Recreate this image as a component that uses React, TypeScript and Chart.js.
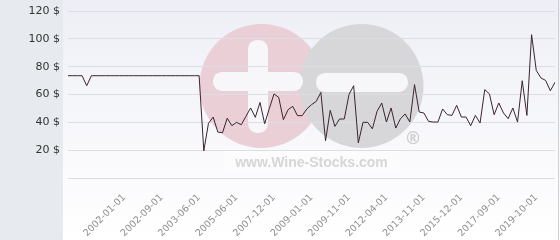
import React, { useEffect, useRef } from 'react';
import { Chart, registerables } from 'chart.js';

Chart.register(...registerables);

// Category labels (one per price point)
const dates: string[] = [
  '2001-01-01', '2001-02-01', '2001-03-01', '2001-04-01', '2001-05-01', '2001-06-01',
  '2001-07-01', '2001-08-01', '2001-09-01', '2001-10-01', '2001-11-01', '2001-12-01',
  '2002-01-01', '2002-02-01', '2002-03-01', '2002-04-01', '2002-05-01', '2002-06-01',
  '2002-07-01', '2002-08-01', '2002-09-01',
  '2002-10-01', '2002-11-01', '2002-12-01', '2003-01-01', '2003-02-01', '2003-03-01', '2003-05-01', '2003-06-01',
  '2003-09-01', '2003-12-01', '2004-03-01', '2004-06-01', '2004-09-01', '2004-12-01', '2005-03-01', '2005-06-01',
  '2005-10-01', '2006-01-01', '2006-05-01', '2006-09-01', '2006-12-01', '2007-03-01', '2007-08-01', '2007-12-01',
  '2008-02-01', '2008-03-01', '2008-05-01', '2008-06-01', '2008-08-01', '2008-09-01', '2008-11-01', '2009-01-01',
  '2009-02-01', '2009-03-01', '2009-05-01', '2009-06-01', '2009-07-01', '2009-08-01', '2009-09-01', '2009-11-01',
  '2010-02-01', '2010-06-01', '2010-10-01', '2011-01-01', '2011-05-01', '2011-08-01', '2011-12-01', '2012-04-01',
  '2012-06-01', '2012-09-01', '2012-11-01', '2013-01-01', '2013-04-01', '2013-06-01', '2013-09-01', '2013-11-01',
  '2014-02-01', '2014-05-01', '2014-08-01', '2014-11-01', '2015-02-01', '2015-06-01', '2015-09-01', '2015-12-01',
  '2016-03-01', '2016-06-01', '2016-08-01', '2016-11-01', '2017-01-01', '2017-04-01', '2017-06-01', '2017-09-01',
  '2017-12-01', '2018-03-01', '2018-06-01', '2018-09-01', '2018-12-01', '2019-03-01', '2019-06-01', '2019-10-01',
  '2020-01-01', '2020-04-01', '2020-07-01', '2020-10-01',
];

// Price series ($)
const prices: number[] = [
  73.5, 73.5, 73.5, 73.5, 66.3, 73.5, 73.5, 73.5, 73.5, 73.5,
  73.5, 73.5, 73.5, 73.5, 73.5, 73.5, 73.5, 73.5, 73.5, 73.5,
  73.5, 73.5, 73.5, 73.5, 73.5, 73.5, 73.5, 73.5, 73.5, 19.5,
  39.3, 43.8, 33, 32.5, 43, 37.6, 40, 38.3, 44.3, 50.3,
  43.6, 54.3, 39, 50, 60.4, 57.9, 41.9, 49.1, 51.5, 44.8,
  44.8, 49.6, 52.7, 55, 61.5, 26.8, 48.6, 37.1, 42.4, 42.4,
  59.9, 66.3, 25.2, 40, 40, 35.3, 47.9, 53.9, 40.2, 50.3,
  35.9, 42.6, 46, 40.2, 67.1, 47.4, 46.7, 40.7, 40.2, 40.2,
  49.6, 45.5, 45, 52.2, 43.8, 43.8, 37.6, 45, 39.5, 63.5,
  60.4, 45.5, 53.9, 46.7, 42.6, 50.3, 40.2, 69.9, 45, 103,
  77.3, 71.9, 70.1, 62.7, 68.7,
];

// Tick labels shown on the x axis
const shownTicks: string[] = [
  '2002-01-01', '2002-09-01', '2003-06-01', '2005-06-01', '2007-12-01', '2009-01-01',
  '2009-11-01', '2012-04-01', '2013-11-01', '2015-12-01', '2017-09-01', '2019-10-01',
];

// Y tick values
const yTicks: number[] = [0, 20, 40, 60, 80, 100, 120];

const backgroundPlugin = {
  id: 'wsBackground',
  beforeDraw(chart: any) {
    const { ctx, width, height, chartArea } = chart;
    const panelRight = chartArea.left - 5;
    ctx.save();
    const g = ctx.createLinearGradient(0, 0, 0, height);
    g.addColorStop(0, '#eeeff6');
    g.addColorStop(1, '#ffffff');
    ctx.fillStyle = g;
    ctx.fillRect(panelRight, 0, width - panelRight, height);
    ctx.fillStyle = '#e7ebef';
    ctx.fillRect(0, 0, panelRight, height);
    ctx.strokeStyle = '#cfd0d4';
    ctx.lineWidth = 1;
    ctx.beginPath();
    ctx.moveTo(width - 1.5, 0);
    ctx.lineTo(width - 1.5, height);
    ctx.stroke();

    // watermark, centred in chart area
    const cx = (chartArea.left + chartArea.right) / 2;
    const cy = (chartArea.top + chartArea.bottom) / 2;
    const rr = (x: number, y: number, w: number, h: number, r: number) => {
      ctx.beginPath();
      ctx.moveTo(x + r, y);
      ctx.lineTo(x + w - r, y);
      ctx.arc(x + w - r, y + r, r, -Math.PI / 2, 0);
      ctx.lineTo(x + w, y + h - r);
      ctx.arc(x + w - r, y + h - r, r, 0, Math.PI / 2);
      ctx.lineTo(x + r, y + h);
      ctx.arc(x + r, y + h - r, r, Math.PI / 2, Math.PI);
      ctx.lineTo(x, y + r);
      ctx.arc(x + r, y + r, r, Math.PI, Math.PI * 1.5);
      ctx.closePath();
      ctx.fill();
    };
    ctx.fillStyle = '#eacfd6';
    ctx.beginPath();
    ctx.arc(cx - 50, cy - 8.6, 62, 0, Math.PI * 2);
    ctx.fill();
    ctx.fillStyle = '#d7d7d9';
    ctx.beginPath();
    ctx.arc(cx + 50, cy - 8.6, 62, 0, Math.PI * 2);
    ctx.fill();
    ctx.fillStyle = '#f7f7fa';
    rr(cx - 98.5, cy - 22.6, 90, 19, 9);
    rr(cx - 63.5, cy - 54.6, 20, 93, 9);
    rr(cx + 4.5, cy - 21.6, 92, 19, 9);
    ctx.fillStyle = 'rgba(255,255,255,0.45)';
    ctx.fillRect(cx - 88, cy + 56, 176, 22);
    ctx.fillStyle = '#d6d6d6';
    ctx.font = 'bold 14px "Liberation Sans", Arial, sans-serif';
    ctx.textAlign = 'center';
    ctx.textBaseline = 'alphabetic';
    ctx.fillText('www.Wine-Stocks.com', cx, cy + 72.4);
    ctx.font = 'bold 17px "DejaVu Sans", sans-serif';
    ctx.textBaseline = 'middle';
    ctx.fillStyle = '#d0d0d0';
    ctx.fillText('®', cx + 101.5, cy + 45.4);
    ctx.restore();
  },
};

export default function App() {
  const canvasRef = useRef<HTMLCanvasElement | null>(null);

  useEffect(() => {
    document.body.style.margin = '0';
    const canvas = canvasRef.current;
    if (!canvas) return;
    const chart = new Chart(canvas, {
      type: 'line',
      data: {
        labels: dates,
        datasets: [
          {
            data: prices,
            borderColor: '#3a2430',
            borderWidth: 1,
            pointRadius: 0,
            fill: false,
            tension: 0,
          },
        ],
      },
      options: {
        animation: false,
        responsive: false,
        layout: { padding: { top: 11, right: 5, left: 0, bottom: 0 } },
        plugins: { legend: { display: false }, tooltip: { enabled: false } },
        scales: {
          x: {
            type: 'category',
            grid: { display: false },
            border: { display: false },
            ticks: {
              autoSkip: false,
              minRotation: 45,
              maxRotation: 45,
              padding: 6,
              color: '#8e8e8e',
              font: { family: '"DejaVu Sans", sans-serif', size: 9.5 },
              callback: (_v: any, i: number) => (shownTicks.includes(dates[i]) ? dates[i] : ''),
            },
            afterFit: (s: any) => {
              s.height = 62;
              s.paddingLeft = 0;
              s.paddingRight = 0;
            },
          },
          y: {
            min: 0,
            max: 120,
            afterBuildTicks: (s: any) => {
              s.ticks = yTicks.map((v) => ({ value: v }));
            },
            grid: { color: '#dcdee6', drawTicks: false },
            border: { display: false },
            ticks: {
              padding: 8,
              color: '#333333',
              font: { family: '"DejaVu Sans", sans-serif', size: 11 },
              callback: (v: any) => (v === 0 ? '' : v + ' $'),
            },
            afterFit: (s: any) => {
              s.width = 68;
              s.paddingTop = 0;
              s.paddingBottom = 0;
            },
          },
        },
      },
      plugins: [backgroundPlugin],
    });
    return () => chart.destroy();
  }, []);

  return (
    <div style={{ width: 560, height: 240 }}>
      <canvas ref={canvasRef} width={560} height={240} style={{ display: 'block' }} />
    </div>
  );
}
